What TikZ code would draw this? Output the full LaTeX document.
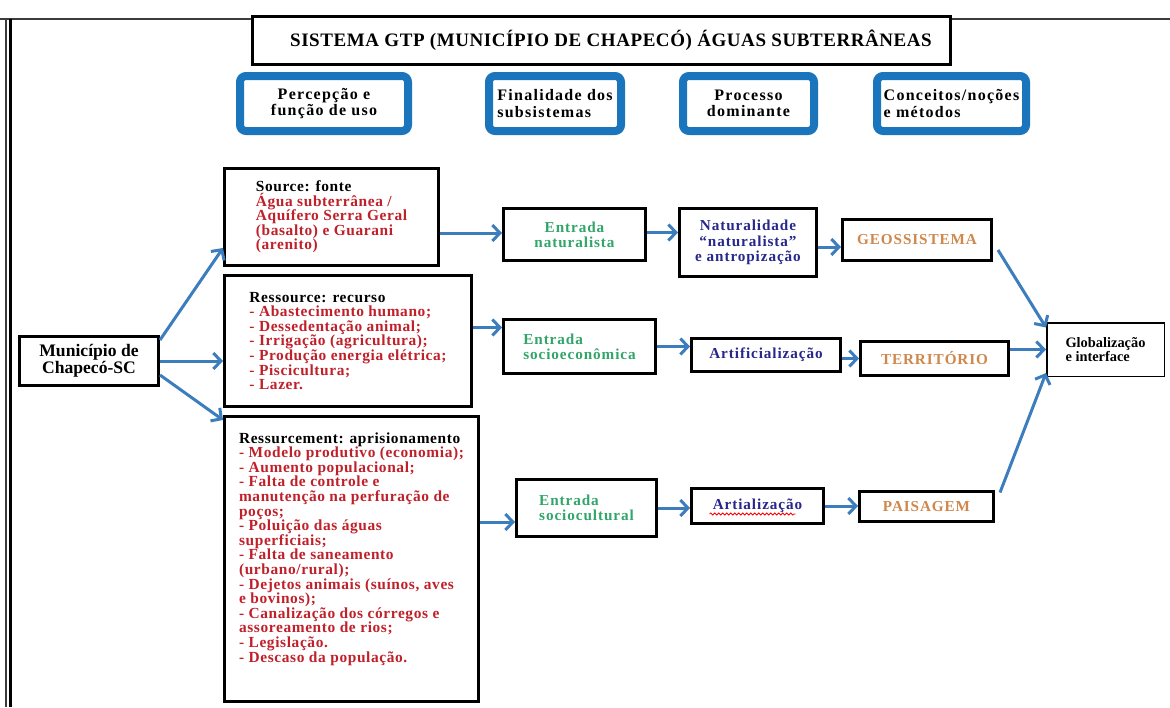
\documentclass[tikz,border=0pt]{standalone}
\usepackage{fontspec}
\setmainfont{Liberation Serif}
\newfontfamily\spaced{Liberation Serif}[LetterSpace=6]
\newfontfamily\spacedh{Liberation Serif}[LetterSpace=8]
\newfontfamily\spacedb{Liberation Serif}[LetterSpace=4]
\newfontfamily\spacedt{Liberation Serif}[LetterSpace=3]
\usetikzlibrary{arrows.meta,calc,decorations.pathmorphing}
\definecolor{boxblue}{RGB}{27,117,188}
\definecolor{arrowblue}{RGB}{60,125,190}
\definecolor{txtred}{RGB}{192,32,42}
\definecolor{txtgreen}{RGB}{50,165,105}
\definecolor{txtnavy}{RGB}{40,40,140}
\definecolor{txtorange}{RGB}{208,135,75}
\definecolor{framegray}{RGB}{60,60,60}
\begin{document}
\begin{tikzpicture}[x=0.5pt,y=-0.5pt,
  hdr/.style={draw=boxblue, line width=4pt, rounded corners=3pt, fill=white, inner sep=0pt, minimum height=27.5pt,
    font=\spacedh\bfseries\fontsize{8}{8.2}\selectfont},
  bbox/.style={draw=black, line width=1.5pt, fill=white, inner sep=0pt},
  body/.style={bbox, text=txtred, align=left, font=\spacedb\bfseries\fontsize{7.7}{7.3}\selectfont},
  entry/.style={bbox, text=txtgreen, font=\spaced\bfseries\fontsize{7.6}{7.6}\selectfont},
  proc/.style={bbox, text=txtnavy, align=center, font=\spaced\bfseries\fontsize{7.6}{7.6}\selectfont},
  concept/.style={bbox, text=txtorange, font=\spaced\bfseries\fontsize{7.6}{8}\selectfont},
  arr/.style={draw=arrowblue, line width=1.5pt, -{Straight Barb[length=3.8pt,width=8pt]}}
]
\useasboundingbox (0,0) rectangle (1170,707);
% frame
\draw[framegray, line width=0.9pt] (0,19) -- (1170,19);
\draw[framegray, line width=0.7pt] (6,19) -- (6,707);
\draw[black, line width=1.4pt] (10.5,19) -- (10.5,707);

% title
\node[bbox, minimum width=349pt, minimum height=24pt, font=\spacedt\bfseries\fontsize{9.5}{10}\selectfont] (title) at (601,40)
  {\hspace*{10pt}SISTEMA GTP (MUNICÍPIO DE CHAPECÓ) ÁGUAS SUBTERRÂNEAS};

% header boxes
\node[hdr, minimum width=84pt, align=center] (h1) at (324,103.5) {Percepção e\\função de uso};
\node[hdr, minimum width=66pt, align=left] (h2) at (555,103.5) {Finalidade dos\\subsistemas};
\node[hdr, minimum width=65.5pt, align=center] (h3) at (748.5,103.5) {Processo\\dominante};
\node[hdr, minimum width=74.5pt, align=left] (h4) at (951.5,103.5) {Conceitos/noções\\e métodos};

% left node
\node[bbox, minimum width=69.5pt, minimum height=24.5pt, align=center, font=\bfseries\fontsize{8.8}{8.6}\selectfont] (mun) at (89,361)
  {Município de\\Chapecó-SC};

% perception boxes
\node[body, minimum width=107pt, minimum height=48.5pt] (src) at (331.5,217)
  {\textcolor{black}{Source: fonte}\\Água subterrânea /\\Aquífero Serra Geral\\(basalto) e Guarani\\(arenito)};
\node[body, minimum width=123.5pt, minimum height=65.5pt] (rec) at (348,341)
  {\textcolor{black}{Ressource: recurso}\\- Abastecimento humano;\\- Dessedentação animal;\\- Irrigação (agricultura);\\- Produção energia elétrica;\\- Piscicultura;\\- Lazer.};
\node[body, minimum width=127pt, minimum height=142.5pt] (res) at (351.5,559)
  {\textcolor{black}{Ressurcement: aprisionamento}\\- Modelo produtivo (economia);\\- Aumento populacional;\\- Falta de controle e\\manutenção na perfuração de\\poços;\\- Poluição das águas\\superficiais;\\- Falta de saneamento\\(urbano/rural);\\- Dejetos animais (suínos, aves\\e bovinos);\\- Canalização dos córregos e\\assoreamento de rios;\\- Legislação.\\- Descaso da população.\\[4.5pt]~};

% entries
\node[entry, minimum width=71pt, minimum height=26pt, align=center] (en1) at (574.5,234.5) {Entrada\\naturalista};
\node[entry, minimum width=76pt, minimum height=27pt, align=left] (en2) at (579.5,346.5) {Entrada\\socioeconômica};
\node[entry, minimum width=70pt, minimum height=28.5pt, align=left] (en3) at (586.5,508) {Entrada\\sociocultural};

% processes
\node[proc, minimum width=68.5pt, minimum height=34pt] (nat) at (748,242.5) {Naturalidade\\“naturalista”\\e antropização};
\node[proc, minimum width=74.5pt, minimum height=16.5pt] (art) at (766,355) {Artificialização};
\node[proc, minimum width=66pt, minimum height=17.5pt] (arl) at (757.5,506) {Artialização};
\draw[red, line width=0.4pt, decorate, decoration={snake, amplitude=0.5pt, segment length=2pt}]
  ($(arl.center)+(-48,8)$) -- ($(arl.center)+(38,8)$);

% concepts
\node[concept, minimum width=74.5pt, minimum height=20.5pt] (geo) at (917,240) {GEOSSISTEMA};
\node[concept, minimum width=74pt, minimum height=17pt] (ter) at (934.5,358.5) {TERRITÓRIO};
\node[concept, minimum width=67pt, minimum height=15pt] (pai) at (926.5,506.5) {PAISAGEM};

% final
\node[draw=black, line width=0.75pt, inner sep=0pt, minimum width=58.75pt, minimum height=26.75pt, align=left,
  font=\bfseries\fontsize{7.2}{7.4}\selectfont] (glo) at (1105.5,349.5) {Globalização\\e interface};

% connectors
\draw[arr] ([yshift=10.5pt]mun.east) -- ([yshift=-15.5pt]src.west);
\draw[arr] (mun.east) -- (rec.west |- mun.east);
\draw[arr] ([yshift=-7pt]mun.east) -- ([yshift=69.5pt]res.west);

\coordinate (a4) at ([yshift=0.75pt]en1.west);
\draw[arr] (src.east |- a4) -- (a4);
\coordinate (a5) at ([yshift=9.5pt]en2.west);
\draw[arr] (rec.east |- a5) -- (a5);
\coordinate (a6) at ([yshift=-7pt]en3.west);
\draw[arr] (res.east |- a6) -- (a6);

\coordinate (a7) at ([yshift=1pt]en1.east);
\draw[arr] (a7) -- (nat.west |- a7);
\coordinate (a8) at ([yshift=-3.5pt]geo.west);
\draw[arr] (nat.east |- a8) -- (a8);
\draw[arr] (en2.east) -- (art.west |- en2.east);
\draw[arr] (art.east |- ter.west) -- (ter.west);
\draw[arr] (en3.east) -- (arl.west |- en3.east);
\draw[arr] (arl.east) -- (pai.west |- arl.east);

\draw[arr] ([xshift=2.5pt,yshift=-5pt]geo.east) -- ([yshift=11pt]glo.west);
\draw[arr] (ter.east |- glo.west) -- (glo.west);
\draw[arr] ([xshift=2.5pt,yshift=7pt]pai.east) -- ([yshift=2pt]glo.south west);
\end{tikzpicture}
\end{document}
